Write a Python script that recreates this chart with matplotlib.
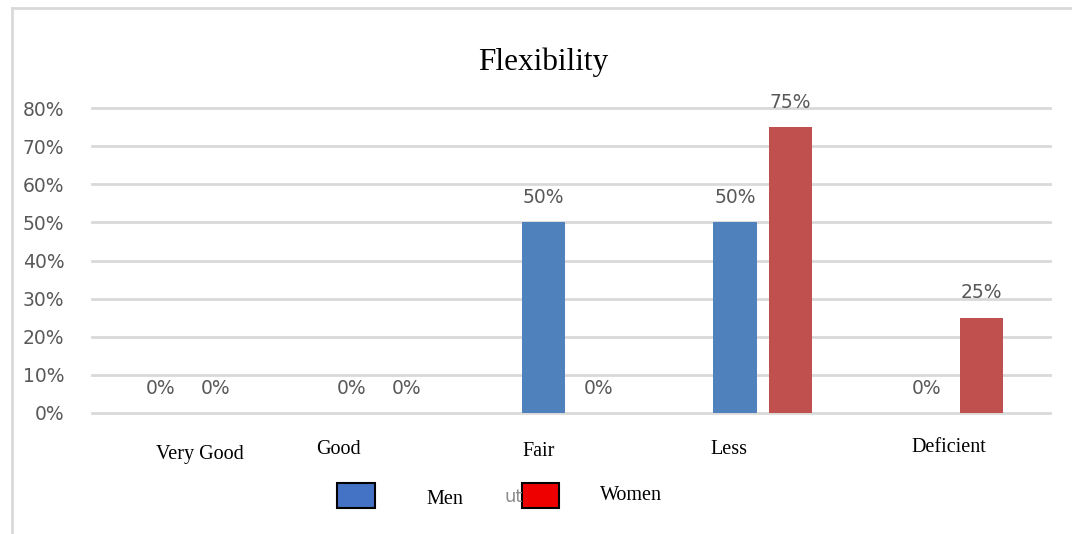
import matplotlib.pyplot as plt
import numpy as np
from matplotlib.patches import Rectangle
from matplotlib.lines import Line2D

# Data #

categories = ['Very Good', 'Good', 'Fair', 'Less', 'Deficient']
men = [0.0, 0.0, 0.50, 0.50, 0.0]
women = [0.0, 0.0, 0.0, 0.75, 0.25]
yticks = [0.0, 0.1, 0.2, 0.3, 0.4, 0.5, 0.6, 0.7, 0.8]

# Category labels in the original are not centred, pixel shifts (dx, dy) #
label_shift = [(12, -41), (-41, -36), (-32, -38), (-34, -36), (-5, -35)]

fig = plt.figure(figsize=(10.72, 5.34), dpi=100)
ax = fig.add_axes([92 / 1072, 1 - 413 / 534, 958 / 1072, 305 / 534])

x = np.arange(len(categories))
w = 0.225
off = 0.144
gray = '#595959'

ax.bar(x - off, men, w, color='#4F81BD', zorder=3)
ax.bar(x + off, women, w, color='#C0504D', zorder=3)

for xi, v in zip(x - off, men):
    ax.annotate('{:.0%}'.format(v), (xi, v), xytext=(0, 25), textcoords='offset pixels',
                ha='center', va='center', color=gray, fontsize=13.5, family='DejaVu Sans')
for xi, v in zip(x + off, women):
    ax.annotate('{:.0%}'.format(v), (xi, v), xytext=(0, 25), textcoords='offset pixels',
                ha='center', va='center', color=gray, fontsize=13.5, family='DejaVu Sans')

for xi, name, (dx, dy) in zip(x, categories, label_shift):
    ax.annotate(name, (xi, 0), xytext=(dx, dy), textcoords='offset pixels',
                ha='center', va='center', fontsize=14.5, family='Liberation Serif',
                annotation_clip=False)

ax.set_xlim(-0.5, len(categories) - 0.5)
ax.set_ylim(0, 0.8)
ax.set_yticks(yticks)
ax.set_yticklabels(['{:.0%}'.format(t) for t in yticks], color=gray, fontsize=13.5)
ax.set_xticks([])
ax.tick_params(axis='y', length=0, pad=20)
ax.grid(axis='y', color='#D9D9D9', linewidth=2, zorder=0)
for gl in ax.get_ygridlines():
    gl.set_clip_on(False)
for s in ax.spines.values():
    s.set_visible(False)

fig.text(543 / 1072, 1 - 62 / 534, 'Flexibility', ha='center', va='center',
         fontsize=22.5, family='Liberation Serif')

# Outer chart border #
fig.add_artist(Line2D([12 / 1072, 12 / 1072], [0, 1 - 8 / 534], color='#D9D9D9', lw=2))
fig.add_artist(Line2D([12 / 1072, 1], [1 - 8 / 534, 1 - 8 / 534], color='#D9D9D9', lw=2))

# Legend #
fig.text(514 / 1072, 1 - 497 / 534, 'ut', ha='center', va='center', color='#8C8C8C',
         fontsize=13, family='DejaVu Sans')
fig.add_artist(Rectangle((337 / 1072, 1 - 508 / 534), 38 / 1072, 25 / 534,
                         facecolor='#4472C4', edgecolor='black', lw=1.5))
fig.add_artist(Rectangle((522 / 1072, 1 - 508 / 534), 37 / 1072, 25 / 534,
                         facecolor='#EE0000', edgecolor='black', lw=1.5))
fig.text(426 / 1072, 1 - 499 / 534, 'Men', ha='left', va='center',
         fontsize=14.5, family='Liberation Serif')
fig.text(600 / 1072, 1 - 496 / 534, 'Women', ha='left', va='center',
         fontsize=14.5, family='Liberation Serif')

fig.savefig('out.png', dpi=100)
